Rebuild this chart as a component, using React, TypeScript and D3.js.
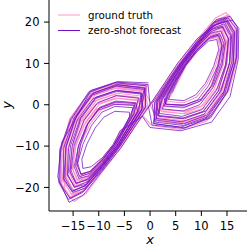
import React from "react";
import * as d3 from "d3";

type Pt = [number, number];

// Ground truth: loops on right wing (x>0), inner to outer
const truthRight: Pt[][] = [
  [[3.8,2.6],[5.1,5.9],[6.8,9.5],[9,13],[11.4,15.8],[13.1,16.3],[13.7,13.9],[12.8,9.5],[11.1,5],[9.1,1.9],[6.6,0.5],[3.3,0.8]],
  [[4.5,3.2],[5.7,6.1],[7,9.4],[9.1,12.8],[11.4,15.8],[13.2,16.6],[13.9,14.2],[13.2,9.6],[11.8,4.4],[9.5,0.7],[6.5,-0.8],[2.7,-0.4]],
  [[3,2.1],[4.6,5.6],[6.5,9.6],[9,13.5],[11.6,16.7],[13.5,17.3],[14.3,14.7],[13.5,9.6],[11.8,4.4],[9.5,0.7],[6.5,-0.8],[2.7,-0.4]],
  [[3.4,2.4],[4.9,5.8],[6.7,9.6],[9.2,13.5],[11.9,17],[13.8,17.7],[14.6,15.4],[14.2,10.3],[12.6,5],[10.2,1.1],[7,-0.3],[3,0]],
  [[3.8,2.6],[5.1,5.9],[6.8,9.5],[9.2,13.4],[11.9,17],[13.9,17.8],[14.8,15.1],[14.2,9.7],[12.5,3.8],[9.9,-0.5],[6.4,-2.1],[2.1,-1.5]],
  [[2.3,1.6],[4.1,5.3],[6.3,9.7],[9,14],[11.8,17.7],[13.9,18.4],[14.9,15.5],[14.3,9.7],[12.5,3.8],[9.9,-0.5],[6.4,-2.1],[2.1,-1.5]],
  [[2.6,1.9],[4.3,5.5],[6.4,9.6],[9.1,13.8],[11.9,17.6],[14,18.7],[15.1,16.2],[14.9,10.4],[13.3,4.4],[10.5,-0.1],[6.8,-1.6],[2.4,-1.2]],
  [[3,2.1],[4.6,5.6],[6.5,9.6],[9,13.6],[11.9,17.2],[14.1,18.9],[15.2,16],[14.7,9.8],[13.2,3.2],[10.3,-1.7],[6.2,-3.4],[1.5,-2.7]],
  [[2,1.4],[4,5.2],[6.2,9.7],[9,14.2],[12,18.2],[14.4,19.2],[15.8,16.6],[15.6,10.5],[13.9,4.2],[11,-0.6],[7,-2.2],[2.3,-1.7]],
  [[1.5,1.1],[3.6,5],[6,9.8],[9,14.5],[12,18.6],[14.3,19.4],[15.5,16.4],[15,9.8],[13.2,3.2],[10.3,-1.7],[6.2,-3.4],[1.5,-2.7]],
  [[2.3,1.6],[4.1,5.3],[6.3,9.7],[9.1,14.5],[12.2,19],[14.5,20.2],[16,17],[15.8,9.9],[13.8,2.6],[10.6,-2.8],[6.1,-4.7],[0.9,-3.9]],
  [[0.8,0.5],[3,4.8],[5.8,9.9],[9,15],[12.3,19.6],[14.6,20.5],[16.2,17.2],[15.8,9.9],[13.8,2.6],[10.6,-2.8],[6.1,-4.7],[0.9,-3.9]],
  [[1.8,1.2],[3.8,5.1],[6.1,9.8],[9.2,14.8],[12.5,19.9],[14.9,21.1],[16.5,17.8],[16.2,10.2],[14.2,2.9],[10.9,-2.4],[6.5,-4.2],[1.2,-3.4]],
  [[1.2,0.6],[3.3,4.8],[6,10],[9.3,15.4],[12.8,20.2],[15.2,21.2],[16.6,18.6],[16.8,11.5],[15,3.8],[11.6,-1.8],[6.9,-3.9],[1.1,-3.1]],
  [[1,0.7],[3.2,4.9],[6,9.9],[9.3,15.2],[13,20.5],[15.3,21.8],[17,18.5],[17,11],[15.4,3.5],[12,-2.5],[7,-4.5],[1.3,-3.5]],
  [[0,0],[2.5,4.5],[5.5,10],[9,15.5],[12.8,21],[14.8,22.3],[16.8,18],[16.5,10],[14.5,2],[11,-4],[6,-6],[0.3,-5]],
];

// Ground truth: loops on left wing (x<0), inner to outer
const truthLeft: Pt[][] = [
  [[-1.5,-2.5],[-5.8,-6.2],[-7.1,-9.5],[-9.3,-13],[-11.6,-16],[-13.5,-16.9],[-14.3,-14.4],[-13.5,-9.7],[-12,-4.4],[-9.6,-0.7],[-6.6,0.8],[-2.7,0.4]],
  [[-3.5,-2.4],[-5,-5.8],[-6.9,-9.7],[-9.3,-13.6],[-11.9,-16.7],[-13.8,-17.3],[-14.5,-14.6],[-13.6,-9.7],[-11.7,-4.7],[-9.5,-1.2],[-6.6,0.2],[-3.1,-0.2]],
  [[-3.4,-2.4],[-5,-5.9],[-6.8,-9.7],[-9.3,-13.7],[-12.1,-17.3],[-14.1,-18.1],[-15,-15.7],[-14.6,-10.4],[-12.9,-5],[-10.4,-1.1],[-7.1,0.3],[-3,0]],
  [[-3.8,-2.6],[-5.2,-6],[-6.9,-9.7],[-9.4,-13.7],[-12.2,-17.4],[-14.2,-18.2],[-15.2,-15.4],[-14.6,-9.8],[-12.8,-3.7],[-10.1,0.6],[-6.5,2.2],[-2.1,1.6]],
  [[-2.8,-1.9],[-4.5,-5.5],[-6.6,-9.9],[-9.3,-14.2],[-12.1,-17.8],[-14.2,-18.4],[-15.1,-15.4],[-14.4,-9.8],[-12.5,-4],[-9.9,0.1],[-6.5,1.5],[-2.4,1]],
  [[-2.6,-1.9],[-4.4,-5.6],[-6.5,-9.8],[-9.2,-14],[-12.1,-17.9],[-14.3,-19],[-15.5,-16.5],[-15.2,-10.6],[-13.6,-4.5],[-10.7,0],[-6.9,1.6],[-2.4,1.2]],
  [[-3,-2.1],[-4.7,-5.7],[-6.6,-9.8],[-9.2,-13.9],[-12.1,-17.5],[-14.4,-19.2],[-15.6,-16.3],[-15.1,-9.9],[-13.5,-3.2],[-10.5,1.8],[-6.3,3.5],[-1.5,2.8]],
  [[-2,-1.4],[-4,-5.2],[-6.4,-10],[-9.4,-14.7],[-12.4,-18.7],[-14.6,-19.6],[-15.8,-16.3],[-15.1,-9.9],[-13.2,-3.4],[-10.3,1.2],[-6.4,2.8],[-1.8,2.1]],
  [[-2,-1.4],[-4.1,-5.3],[-6.3,-9.9],[-9.2,-14.4],[-12.3,-18.6],[-14.7,-19.7],[-16.2,-17],[-16,-10.6],[-14.2,-4.2],[-11.2,0.7],[-7.1,2.4],[-2.4,1.8]],
  [[-1.2,-0.8],[-3.4,-5],[-6.1,-10.1],[-9.4,-15.2],[-12.6,-19.7],[-15,-20.6],[-16.4,-17.3],[-15.9,-10],[-13.9,-2.8],[-10.7,2.3],[-6.3,4.1],[-1.2,3.3]],
  [[-2.3,-1.6],[-4.2,-5.4],[-6.4,-9.9],[-9.3,-14.8],[-12.5,-19.4],[-14.9,-20.7],[-16.5,-17.5],[-16.3,-10.1],[-14.1,-2.7],[-10.8,2.9],[-6.2,4.8],[-0.9,4]],
  [[-1.8,-1.2],[-3.8,-5.1],[-6.2,-10],[-9.4,-15],[-12.8,-20.2],[-15.3,-21.6],[-17,-18.4],[-16.7,-10.6],[-14.6,-3],[-11.1,2.4],[-6.6,4.3],[-1.2,3.5]],
  [[-0.4,-0.3],[-2.9,-4.8],[-5.9,-10.2],[-9.4,-15.7],[-12.8,-20.7],[-15.3,-21.8],[-17,-18],[-16.7,-10],[-14.6,-2.3],[-11,3.4],[-6.1,5.4],[-0.6,4.5]],
  [[-1.2,-0.6],[-3.4,-4.9],[-6.1,-10.2],[-9.5,-15.8],[-13,-20.8],[-15.5,-22.4],[-17.2,-19.2],[-17.3,-11.6],[-15.4,-3.8],[-11.8,1.9],[-7,4],[-1.1,3.1]],
  [[-1,-0.7],[-3.3,-5],[-6.1,-10.2],[-9.5,-15.6],[-13.2,-21],[-15.6,-22.6],[-17.4,-19],[-17.4,-11],[-15.6,-3.2],[-12,2.6],[-7,4.6],[-1.3,3.8]],
  [[0.2,0.3],[-2.6,-4.6],[-5.7,-10.5],[-9.3,-16.2],[-12.5,-21.5],[-14.8,-23.4],[-16.6,-20.5],[-17,-12],[-15.2,-4],[-11.5,2.8],[-6.5,5],[-0.3,4.8]],
];

// Zero-shot forecast: right wing, inner to outer
const forecastRight: Pt[][] = [
  [[4.2,2.8],[5.4,6],[6.9,9.4],[9.1,12.8],[11.4,15.4],[13,15.8],[13.4,13.4],[12.4,9.3],[10.8,5.2],[8.9,2.4],[6.6,1],[3.6,1.3]],
  [[4,2.9],[5.3,6],[6.9,9.5],[9,13],[11.5,16],[13.3,16.8],[14,14.5],[13.4,9.7],[12,4.6],[9.8,0.9],[6.7,-0.6],[2.8,-0.3]],
  [[3.4,2.3],[4.9,5.7],[6.7,9.5],[9.1,13.3],[11.6,16.3],[13.4,16.9],[14.1,14.3],[13.2,9.5],[11.4,4.6],[9.3,1.2],[6.5,-0.2],[3,0.2]],
  [[3.6,2.5],[5,5.8],[6.8,9.5],[9.1,13.2],[11.7,16.5],[13.6,17.2],[14.4,14.9],[13.9,10.2],[12.3,5],[10,1.4],[6.9,0],[3.1,0.1]],
  [[2.7,1.8],[4.4,5.4],[6.4,9.6],[9.1,13.8],[11.8,17.3],[13.8,17.9],[14.7,15],[14,9.5],[12.2,4],[9.7,0],[6.4,-1.5],[2.4,-1]],
  [[3.2,2.2],[4.7,5.6],[6.6,9.6],[9.1,13.9],[12,17.8],[14.1,18.8],[15.3,16],[14.9,9.9],[13.3,3.3],[10.4,-1.6],[6.4,-3.2],[1.7,-2.6]],
  [[1.9,1.3],[3.9,5.1],[6.2,9.7],[9.1,14.3],[12,18.2],[14.2,19],[15.3,15.9],[14.7,9.6],[12.9,3.4],[10.1,-1.2],[6.3,-2.8],[1.8,-2.1]],
  [[2.2,1.5],[4.1,5.3],[6.3,9.7],[9.1,14.1],[12.1,18.4],[14.4,19.6],[15.7,16.7],[15.5,10.3],[13.9,3.6],[10.9,-1.5],[6.7,-3.4],[1.7,-2.8]],
  [[1.2,0.8],[3.3,4.9],[5.9,9.8],[9.1,14.8],[12.2,19.1],[14.5,20],[15.9,16.8],[15.5,9.8],[13.6,2.8],[10.5,-2.3],[6.2,-4.1],[1.2,-3.3]],
  [[1.4,0.9],[3.5,5],[6.1,9.9],[9.2,14.6],[12.3,19],[14.8,20.3],[16.2,17.4],[16,10.6],[14.4,3.2],[11.1,-2.5],[6.5,-4.6],[1.1,-3.7]],
  [[2.5,1.7],[4.2,5.3],[6.3,9.8],[9.2,14.6],[12.4,19.3],[14.8,20.6],[16.4,17.6],[16.3,10.4],[14.6,2.8],[11.3,-2.9],[6.5,-5],[1,-4.2]],
  [[0.4,0.3],[2.8,4.6],[5.7,9.9],[9.1,15.2],[12.4,20],[14.8,21],[16.5,17.6],[16.2,9.9],[14.2,2.3],[10.8,-3.4],[6,-5.4],[0.6,-4.5]],
  [[1.6,1],[3.6,5],[6,9.8],[9.2,14.9],[12.5,19.8],[15.2,21],[16.9,18.2],[16.8,10.8],[15,3],[11.6,-3],[6.8,-5.6],[0.8,-4.6]],
  [[0.9,0.6],[3.1,4.8],[5.9,10],[9.3,15.5],[12.9,20.6],[15.6,21.4],[17,18.9],[16.9,11.8],[15.2,3.4],[11.8,-3.2],[6.4,-5.7],[0.4,-4.9]],
  [[-0.3,-0.5],[2.3,4.3],[5.4,10.1],[9.2,16],[13,19.5],[16,20.5],[17.3,18.5],[17.2,11],[15.6,2],[12,-4.2],[6,-6.3],[0,-5.5]],
];

// Zero-shot forecast: left wing, inner to outer
const forecastLeft: Pt[][] = [
  [[-1.5,-2.8],[-5.8,-6.3],[-7.2,-9.6],[-9.3,-12.8],[-11.5,-15],[-13.1,-15.4],[-13.3,-13.2],[-12.3,-9.5],[-10.7,-5.6],[-9,-3],[-6.9,-1.6],[-4,-1.8]],
  [[-4,-2.9],[-5.4,-6.1],[-7,-9.6],[-9.2,-13.1],[-11.6,-16.1],[-13.4,-16.9],[-14.2,-14.6],[-13.6,-9.8],[-12.2,-4.7],[-10,-0.9],[-6.8,0.6],[-2.9,0.3]],
  [[-3.9,-2.7],[-5.3,-6],[-7,-9.7],[-9.3,-13.3],[-11.8,-16.2],[-13.5,-16.7],[-14.1,-14.1],[-13.1,-9.6],[-11.4,-5],[-9.4,-1.8],[-6.8,-0.4],[-3.4,-0.7]],
  [[-3.6,-2.5],[-5.1,-5.9],[-6.9,-9.6],[-9.2,-13.3],[-11.8,-16.6],[-13.7,-17.4],[-14.5,-15],[-14,-10.2],[-12.4,-5],[-10.1,-1.3],[-7,0.1],[-3.1,-0.1]],
  [[-3.1,-2.2],[-4.8,-5.7],[-6.7,-9.8],[-9.3,-13.9],[-12,-17.2],[-13.9,-17.8],[-14.8,-15],[-13.9,-9.7],[-12.1,-4.4],[-9.8,-0.6],[-6.7,0.9],[-2.8,0.5]],
  [[-2.4,-1.7],[-4.2,-5.4],[-6.5,-9.9],[-9.3,-14.4],[-12.2,-18.2],[-14.4,-18.9],[-15.4,-15.9],[-14.8,-9.8],[-12.9,-3.8],[-10.2,0.5],[-6.6,2.2],[-2.2,1.6]],
  [[-3.2,-2.2],[-4.8,-5.6],[-6.7,-9.7],[-9.3,-14.1],[-12.2,-18],[-14.4,-19.1],[-15.6,-16.2],[-15.2,-10],[-13.5,-3.4],[-10.6,1.5],[-6.5,3.2],[-1.8,2.6]],
  [[-2.2,-1.5],[-4.1,-5.3],[-6.3,-9.8],[-9.2,-14.3],[-12.3,-18.7],[-14.7,-19.9],[-16.1,-17.1],[-15.9,-10.5],[-14.2,-3.7],[-11.1,1.5],[-6.8,3.4],[-1.7,2.8]],
  [[-1.6,-1.1],[-3.7,-5.1],[-6.2,-10],[-9.3,-14.9],[-12.4,-19.2],[-14.8,-20],[-16,-16.9],[-15.5,-9.9],[-13.6,-3.2],[-10.6,1.8],[-6.4,3.5],[-1.6,2.8]],
  [[-1.4,-0.9],[-3.6,-5.1],[-6.2,-10],[-9.3,-14.9],[-12.6,-19.6],[-15.1,-20.8],[-16.6,-17.6],[-16.4,-10.4],[-14.6,-3.3],[-11.2,2.4],[-6.6,4.5],[-1.1,3.7]],
  [[-2.5,-1.7],[-4.3,-5.4],[-6.4,-9.9],[-9.4,-14.8],[-12.7,-19.6],[-15.2,-21],[-16.9,-18],[-16.9,-10.6],[-14.8,-3.2],[-11.4,2.6],[-6.6,4.9],[-1.1,4.2]],
  [[-0.8,-0.5],[-3.1,-4.9],[-6,-10.2],[-9.3,-15.5],[-12.7,-20.2],[-15.1,-21.2],[-16.8,-17.8],[-16.4,-10.1],[-14.3,-2.6],[-11,2.9],[-6.3,4.8],[-1,4]],
  [[-1.6,-1],[-3.7,-5.1],[-6.1,-10.1],[-9.4,-15.3],[-12.9,-20.8],[-15.6,-22.6],[-17.6,-19],[-17.5,-11],[-15.4,-3.6],[-11.8,3],[-6.9,5.3],[-0.8,4.6]],
  [[-0.9,-0.6],[-3.2,-4.9],[-6,-10.3],[-9.4,-15.9],[-13.1,-21.2],[-15.9,-22.9],[-17.8,-18.8],[-17.6,-10.8],[-15.5,-3.5],[-11.9,3.2],[-6.5,5.5],[-0.4,4.9]],
  [[0,0],[-2.6,-4.7],[-5.7,-10.4],[-9.4,-16.2],[-13,-21.8],[-15.8,-23.6],[-18,-17.5],[-17.2,-9],[-15,-4.5],[-11.5,3.5],[-6.3,5.6],[-0.3,5.3]],
];

const xTicks = [-15, -10, -5, 0, 5, 10, 15];
const yTicks = [-20, -10, 0, 10, 20];
const seriesLabels = ["ground truth", "zero-shot forecast"];
const seriesColors = ["#ff96c9", "#7012c2"];

const W = 249, H = 249;
const left = 49, right = 247, top = 1, bottom = 211;

export default function App() {
  const x = d3.scaleLinear().domain([-19.7, 18.9]).range([left, right]);
  const y = d3.scaleLinear().domain([-25.7, 25.1]).range([bottom, top]);
  const line = d3.line<Pt>().x((d) => x(d[0])).y((d) => y(d[1]));

  const truthPath = [...truthRight.flat(), ...truthLeft.flat()];
  const forecastPath = [...forecastRight.flat(), ...forecastLeft.flat()];

  const font = "DejaVu Sans, sans-serif";

  return (
    <svg
      width={W}
      height={H}
      style={{ position: "absolute", left: 0, top: 0, background: "#fff" }}
      fontFamily={font}
    >
      <path d={line(truthPath) || ""} fill="none" stroke={seriesColors[0]} strokeWidth={1.1} strokeLinejoin="round" />
      <path d={line(forecastPath) || ""} fill="none" stroke={seriesColors[1]} strokeWidth={0.75} strokeLinejoin="round" />

      <line x1={left} x2={left} y1={top - 1} y2={bottom} stroke="#000" strokeWidth={1} />
      <line x1={left} x2={right} y1={bottom} y2={bottom} stroke="#000" strokeWidth={1} />

      {xTicks.map((t) => (
        <g key={"x" + t} transform={`translate(${x(t)},${bottom})`}>
          <line y1={0} y2={5} stroke="#000" strokeWidth={1} />
          <text y={19} textAnchor="middle" fontSize={11.5} fill="#000">
            {t < 0 ? "\u2212" + Math.abs(t) : t}
          </text>
        </g>
      ))}
      {yTicks.map((t) => (
        <g key={"y" + t} transform={`translate(${left},${y(t)})`}>
          <line x1={-5} x2={0} stroke="#000" strokeWidth={1} />
          <text x={-9.5} dy="0.36em" textAnchor="end" fontSize={11.5} fill="#000">
            {t < 0 ? "\u2212" + Math.abs(t) : t}
          </text>
        </g>
      ))}

      <text x={150} y={243.5} textAnchor="middle" fontSize={13} fontStyle="italic" fill="#000">x</text>
      <text transform="translate(11,105) rotate(-90)" textAnchor="middle" fontSize={13} fontStyle="italic" fill="#000">y</text>

      {seriesLabels.map((s, i) => (
        <g key={s} transform={`translate(58,${15 + i * 15.5})`}>
          <line x1={0} x2={22} stroke={seriesColors[i]} strokeWidth={1} />
          <text x={30} dy="0.35em" fontSize={10.3} fill="#000">{s}</text>
        </g>
      ))}
    </svg>
  );
}
